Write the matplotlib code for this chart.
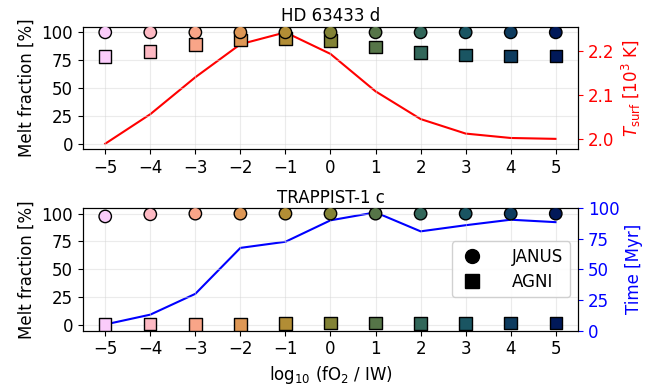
import matplotlib
matplotlib.use("Agg")
import matplotlib.pyplot as plt
from matplotlib.colors import LinearSegmentedColormap
from matplotlib.lines import Line2D
import numpy as np

# oxygen fugacity offsets (log10 fO2 / IW)
fo2 = [-5, -4, -3, -2, -1, 0, 1, 2, 3, 4, 5]

# HD 63433 d
hd_janus = [100, 100, 100, 100, 100, 100, 100, 100, 100, 100, 100]
hd_agni = [78.3, 82.8, 89.0, 93.0, 94.6, 92.8, 86.6, 81.9, 79.5, 78.9, 79.0]
hd_tsurf = [1.989, 2.056, 2.140, 2.215, 2.242, 2.193, 2.108, 2.045, 2.012, 2.002, 2.000]

# TRAPPIST-1 c
tr_janus = [97.5, 99.4, 100, 100, 100, 100, 100, 100, 100, 100, 100]
tr_agni = [0.5, 0.8, 0.6, 0.6, 1.3, 1.8, 1.8, 1.3, 1.3, 2.0, 1.8]
tr_time = [5.0, 13.0, 30.0, 67.5, 72.5, 90.0, 96.5, 81.0, 86.0, 90.5, 88.5]

# batlow-like colour map, reversed (pink -> navy)
batlow = ["#011959", "#104160", "#1C5A62", "#3C6D56", "#687B3E",
          "#9D892B", "#D29343", "#F8A17B", "#FDB7BC", "#FACCFA"]
cmap = LinearSegmentedColormap.from_list("batlow_r", batlow[::-1])
colors = [cmap(v) for v in np.linspace(0, 1, len(fo2))]

fig, axes = plt.subplots(2, 1, figsize=(6.67, 3.88), dpi=100)
fig.subplots_adjust(left=0.124, right=0.867, top=0.931, bottom=0.148, hspace=0.48)

panels = [
    ("HD 63433 d", hd_janus, hd_agni, hd_tsurf, "red", r"$T_\mathrm{surf}$ [$10^3$ K]"),
    ("TRAPPIST-1 c", tr_janus, tr_agni, tr_time, "blue", "Time [Myr]"),
]

for i, (ax, (title, janus, agni, extra, col, rlabel)) in enumerate(zip(axes, panels)):
    ax.grid(True, color="lightgray", alpha=0.45, lw=0.8)
    ax.set_axisbelow(True)
    ax.scatter(fo2, agni, marker="s", s=80, c=colors, edgecolors="black", lw=1, zorder=3)
    ax.scatter(fo2, janus, marker="o", s=80, c=colors, edgecolors="black", lw=1, zorder=3)
    ax.set_ylim(-5, 105)
    ax.set_yticks([0, 25, 50, 75, 100])
    ax.set_xticks(fo2)
    ax.set_xlim(-5.5, 5.5)
    ax.set_ylabel("Melt fraction [%]", fontsize=12)
    ax.set_title(title, fontsize=12, pad=4)
    ax.tick_params(labelsize=12)

    ax2 = ax.twinx()
    ax2.plot(fo2, extra, color=col, lw=1.5, zorder=2)
    ax2.set_ylabel(rlabel, color=col, fontsize=12)
    ax2.tick_params(axis="y", colors=col, labelsize=12)
    if i == 0:
        ax2.set_yticks([2.0, 2.1, 2.2])
    else:
        ax2.set_ylim(0, 100)
        ax2.set_yticks([0, 25, 50, 75, 100])
    ax.set_zorder(ax2.get_zorder() + 1)
    ax.patch.set_visible(False)

axes[1].set_xlabel(r"log$_{10}$ (fO$_2$ / IW)", fontsize=12)

handles = [
    Line2D([], [], marker="o", color="black", ls="", markersize=10, label="JANUS"),
    Line2D([], [], marker="s", color="black", ls="", markersize=10, label="AGNI"),
]
axes[1].legend(handles=handles, loc="center right", fontsize=12, handletextpad=1.6,
               handlelength=1.6, borderpad=0.4, labelspacing=0.4, framealpha=0.9)

fig.savefig("out.png", dpi=100)
